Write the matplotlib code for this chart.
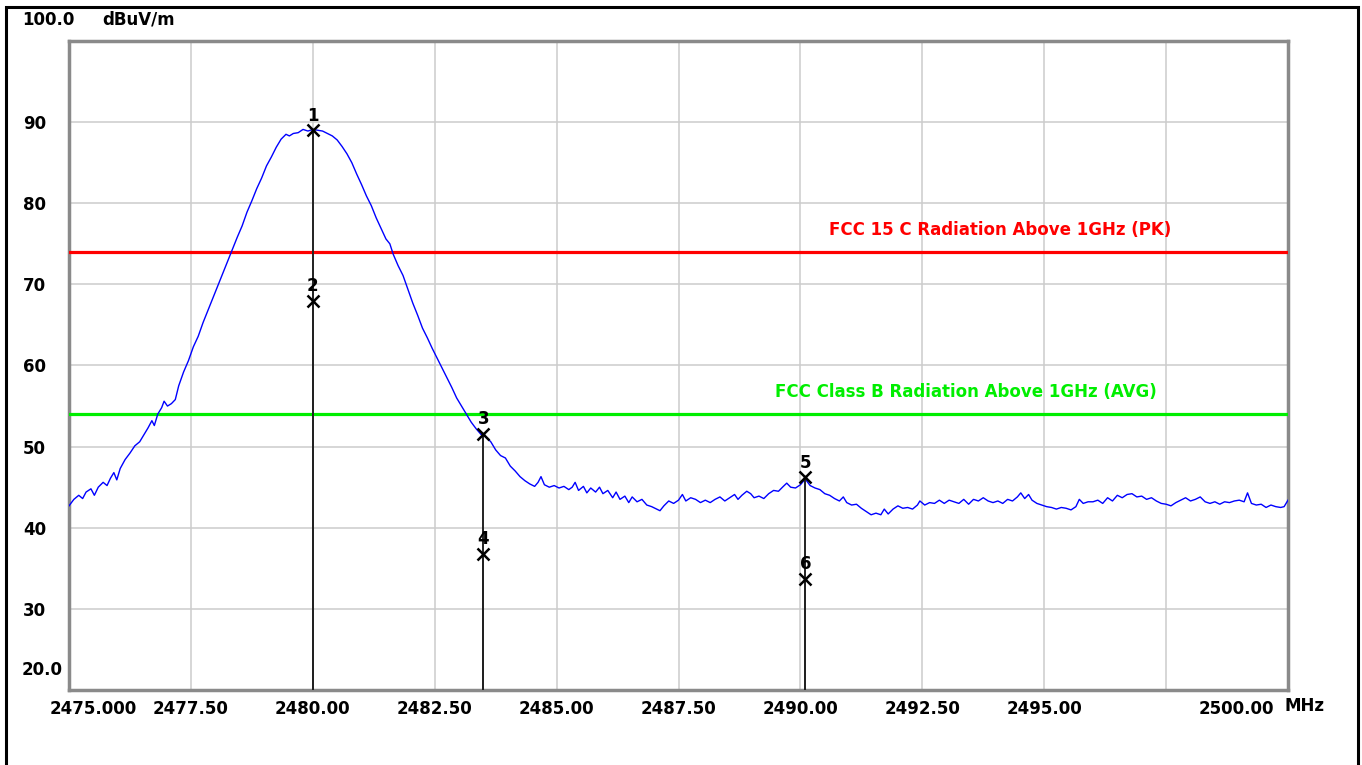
import matplotlib
matplotlib.use('Agg')
import matplotlib.pyplot as plt
from matplotlib.patches import Rectangle
from matplotlib.transforms import ScaledTranslation

W, H = 1362, 765

# ── measured trace (MHz, dBuV/m) ─────────────────────────────
FREQ = [
    2475.00, 2475.10, 2475.20, 2475.28, 2475.35, 2475.45, 2475.52, 2475.60, 2475.70, 2475.78,
    2475.85, 2475.92, 2475.98, 2476.05, 2476.15, 2476.25, 2476.35, 2476.45, 2476.55, 2476.62,
    2476.70, 2476.75, 2476.82, 2476.90, 2476.95, 2477.02, 2477.10, 2477.18, 2477.25, 2477.35,
    2477.45, 2477.55, 2477.65, 2477.75, 2477.85, 2477.95, 2478.05, 2478.15, 2478.25, 2478.35,
    2478.45, 2478.55, 2478.65, 2478.75, 2478.85, 2478.95, 2479.05, 2479.15, 2479.25, 2479.35,
    2479.45, 2479.52, 2479.60, 2479.70, 2479.80, 2479.90, 2480.00, 2480.10, 2480.20, 2480.30,
    2480.40, 2480.50, 2480.60, 2480.70, 2480.80, 2480.90, 2481.00, 2481.10, 2481.20, 2481.30,
    2481.40, 2481.50, 2481.58, 2481.65, 2481.75, 2481.85, 2481.95, 2482.05, 2482.15, 2482.25,
    2482.35, 2482.45, 2482.55, 2482.65, 2482.75, 2482.85, 2482.95, 2483.05, 2483.15, 2483.25,
    2483.35, 2483.45, 2483.55, 2483.65, 2483.75, 2483.85, 2483.95, 2484.05, 2484.15, 2484.25,
    2484.35, 2484.45, 2484.55, 2484.62, 2484.68, 2484.75, 2484.85, 2484.95, 2485.05, 2485.15,
    2485.25, 2485.32, 2485.38, 2485.45, 2485.55, 2485.62, 2485.70, 2485.80, 2485.88, 2485.95,
    2486.05, 2486.15, 2486.22, 2486.30, 2486.40, 2486.48, 2486.55, 2486.65, 2486.75, 2486.85,
    2486.95, 2487.05, 2487.12, 2487.20, 2487.30, 2487.40, 2487.50, 2487.58, 2487.65, 2487.75,
    2487.85, 2487.95, 2488.05, 2488.15, 2488.25, 2488.35, 2488.45, 2488.55, 2488.65, 2488.72,
    2488.80, 2488.90, 2488.98, 2489.05, 2489.15, 2489.25, 2489.35, 2489.45, 2489.55, 2489.65,
    2489.72, 2489.80, 2489.90, 2490.00, 2490.10, 2490.20, 2490.30, 2490.40, 2490.50, 2490.60,
    2490.70, 2490.80, 2490.88, 2490.95, 2491.05, 2491.15, 2491.25, 2491.35, 2491.45, 2491.55,
    2491.65, 2491.72, 2491.80, 2491.90, 2492.00, 2492.10, 2492.20, 2492.30, 2492.40, 2492.45,
    2492.55, 2492.65, 2492.75, 2492.85, 2492.95, 2493.05, 2493.15, 2493.25, 2493.35, 2493.45,
    2493.55, 2493.65, 2493.75, 2493.85, 2493.95, 2494.05, 2494.15, 2494.25, 2494.35, 2494.45,
    2494.52, 2494.60, 2494.68, 2494.75, 2494.85, 2494.95, 2495.05, 2495.15, 2495.25, 2495.35,
    2495.45, 2495.55, 2495.65, 2495.72, 2495.80, 2495.90, 2496.00, 2496.10, 2496.20, 2496.30,
    2496.40, 2496.50, 2496.60, 2496.70, 2496.80, 2496.90, 2497.00, 2497.10, 2497.20, 2497.30,
    2497.40, 2497.50, 2497.60, 2497.70, 2497.80, 2497.90, 2498.00, 2498.10, 2498.20, 2498.30,
    2498.40, 2498.50, 2498.60, 2498.70, 2498.80, 2498.90, 2499.00, 2499.10, 2499.17, 2499.25,
    2499.35, 2499.45, 2499.55, 2499.65, 2499.75, 2499.85, 2499.92, 2500.00,
]
LEVEL = [
    42.7, 43.5, 44.0, 43.6, 44.4, 44.8, 44.0, 45.0, 45.6, 45.2,
    46.1, 46.8, 45.9, 47.3, 48.4, 49.2, 50.1, 50.6, 51.6, 52.3,
    53.2, 52.6, 54.0, 54.8, 55.6, 55.0, 55.3, 55.8, 57.5, 59.2,
    60.6, 62.3, 63.6, 65.3, 66.8, 68.3, 69.8, 71.3, 72.8, 74.3,
    75.8, 77.2, 78.9, 80.3, 81.8, 83.1, 84.6, 85.7, 86.9, 87.9,
    88.5, 88.3, 88.6, 88.7, 89.1, 88.9, 89.1, 89.0, 88.9, 88.6,
    88.3, 87.8, 87.0, 86.1, 85.0, 83.6, 82.3, 80.9, 79.7, 78.2,
    76.9, 75.6, 75.0, 73.7, 72.3, 71.1, 69.4, 67.7, 66.2, 64.6,
    63.4, 62.1, 60.9, 59.7, 58.5, 57.3, 56.0, 55.0, 54.0, 53.0,
    52.2, 51.5, 51.2, 50.6, 49.6, 48.9, 48.6, 47.6, 47.0, 46.3,
    45.8, 45.4, 45.1, 45.6, 46.3, 45.3, 45.0, 45.2, 44.9, 45.1,
    44.7, 45.0, 45.6, 44.6, 45.1, 44.3, 44.9, 44.4, 45.0, 44.2,
    44.6, 43.7, 44.4, 43.5, 43.9, 43.1, 43.8, 43.2, 43.5, 42.8,
    42.6, 42.3, 42.1, 42.7, 43.3, 43.0, 43.4, 44.1, 43.3, 43.7,
    43.5, 43.1, 43.4, 43.1, 43.5, 43.8, 43.3, 43.7, 44.1, 43.5,
    44.0, 44.5, 44.2, 43.7, 43.9, 43.6, 44.2, 44.6, 44.5, 45.1,
    45.5, 45.0, 44.9, 45.3, 46.0, 45.2, 44.9, 44.7, 44.2, 44.0,
    43.6, 43.3, 43.8, 43.1, 42.8, 42.9, 42.4, 42.0, 41.6, 41.8,
    41.6, 42.3, 41.7, 42.3, 42.7, 42.4, 42.5, 42.3, 42.8, 43.3,
    42.8, 43.1, 43.0, 43.4, 43.0, 43.4, 43.2, 43.0, 43.5, 42.9,
    43.5, 43.3, 43.7, 43.3, 43.1, 43.3, 43.0, 43.5, 43.3, 43.8,
    44.3, 43.6, 44.1, 43.4, 43.0, 42.8, 42.6, 42.5, 42.3, 42.5,
    42.4, 42.2, 42.6, 43.5, 43.0, 43.2, 43.2, 43.4, 43.0, 43.7,
    43.3, 44.0, 43.7, 44.1, 44.2, 43.8, 43.9, 43.5, 43.7, 43.3,
    43.0, 42.9, 42.7, 43.1, 43.4, 43.7, 43.3, 43.5, 43.8, 43.2,
    43.0, 43.2, 42.9, 43.2, 43.1, 43.3, 43.4, 43.2, 44.3, 43.0,
    42.8, 42.9, 42.5, 42.8, 42.6, 42.5, 42.6, 43.4,
]

# limit lines
LIMIT_NAMES = ['FCC 15 C Radiation Above 1GHz (PK)', 'FCC Class B Radiation Above 1GHz (AVG)']
LIMIT_VALUES = [74.0, 54.0]
LIMIT_COLORS = ['#ff0000', '#00ee00']

# markers
MARK_ID = ['1', '2', '3', '4', '5', '6']
MARK_FREQ = [2480.00, 2480.00, 2483.50, 2483.50, 2490.10, 2490.10]
MARK_LEVEL = [89.0, 68.0, 51.6, 36.8, 46.2, 33.7]

XTICKS = [2475.0, 2477.5, 2480.0, 2482.5, 2485.0, 2487.5, 2490.0, 2492.5, 2495.0, 2497.5, 2500.0]
XLABELS = ['2475.000', '2477.50', '2480.00', '2482.50', '2485.00', '2487.50', '2490.00',
           '2492.50', '2495.00', '', '2500.00']
YTICKS = [30, 40, 50, 60, 70, 80, 90]

FONT = 'DejaVu Sans'
FS = 12

fig = plt.figure(figsize=(W / 100, H / 100), dpi=100)
fig.patch.set_facecolor('white')
ax = fig.add_axes([69 / W, 1 - 690 / H, (1288 - 69) / W, (690 - 41) / H])
ax.set_xlim(2475, 2500)
ax.set_ylim(20, 100)

ax.set_xticks(XTICKS)
ax.set_xticklabels(XLABELS, fontfamily=FONT, fontsize=FS, fontweight='bold')
ax.set_yticks(YTICKS)
ax.set_yticklabels([str(v) for v in YTICKS], fontfamily=FONT, fontsize=FS, fontweight='bold')
ax.tick_params(axis='both', length=0)
ax.tick_params(axis='y', pad=33)
ax.tick_params(axis='x', pad=7)
for t in ax.get_yticklabels():
    t.set_ha('left')
xl = ax.get_xticklabels()
xl[0].set_transform(xl[0].get_transform() + ScaledTranslation(0.24, 0, fig.dpi_scale_trans))
xl[-1].set_transform(xl[-1].get_transform() + ScaledTranslation(-0.52, 0, fig.dpi_scale_trans))

ax.grid(True, color='#cccccc', lw=1.1)
ax.set_axisbelow(True)
for s in ax.spines.values():
    s.set_color('#8a8a8a')
    s.set_linewidth(2.5)

# limit lines
for name, val, c, tx in zip(LIMIT_NAMES, LIMIT_VALUES, LIMIT_COLORS, [2494.1, 2493.4]):
    ax.axhline(val, color=c, lw=2.3, zorder=3)
    ax.text(tx, val + 1.6, name, color=c, fontfamily=FONT, fontsize=FS,
            fontweight='bold', ha='center', va='bottom', zorder=4)

# trace
ax.plot(FREQ, LEVEL, color='#0000ff', lw=1.0, zorder=4)

# marker stems + markers
for mid, f, lv in zip(MARK_ID, MARK_FREQ, MARK_LEVEL):
    ax.vlines(f, 20, lv, color='#222222', lw=1.4, zorder=5)
    ax.plot(f, lv, marker='x', ms=9, mew=1.8, color='black', zorder=6)
    ax.annotate(mid, (f, lv), xytext=(0, 4), textcoords='offset points',
                ha='center', va='bottom', fontfamily=FONT, fontsize=FS,
                fontweight='bold', color='black', zorder=7)

# axis texts outside the tick system
fig.text(22 / W, 1 - 20 / H, '100.0', fontfamily=FONT, fontsize=FS, fontweight='bold',
         ha='left', va='center')
fig.text(102 / W, 1 - 20 / H, 'dBuV/m', fontfamily=FONT, fontsize=FS, fontweight='bold',
         ha='left', va='center')
fig.text(22 / W, 1 - 670 / H, '20.0', fontfamily=FONT, fontsize=FS, fontweight='bold',
         ha='left', va='center')
fig.text(1285 / W, 1 - 706 / H, 'MHz', fontfamily=FONT, fontsize=FS, fontweight='bold',
         ha='left', va='center')

# outer black frame
fig.add_artist(Rectangle((6 / W, -0.05), (1358 - 6) / W, 1.05 - 7 / H,
                         transform=fig.transFigure, fill=False, ec='black', lw=2.2))

fig.savefig('out.png', dpi=100, facecolor='white')
